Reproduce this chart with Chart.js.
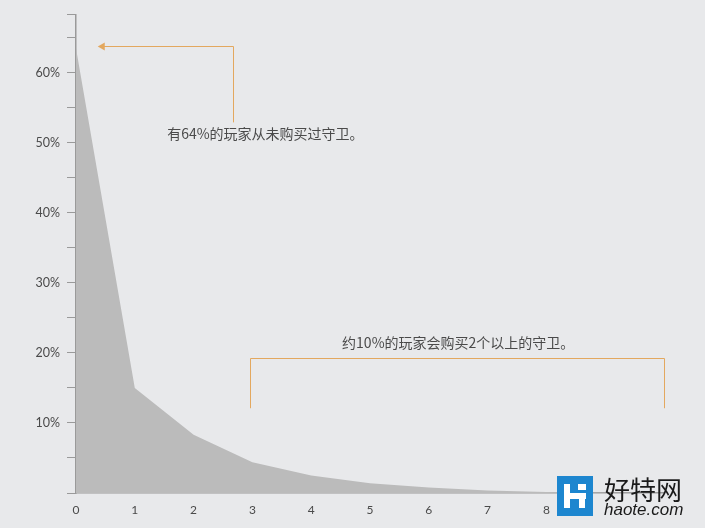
<!DOCTYPE html>
<html>
<head>
<meta charset="utf-8">
<script src="https://cdn.jsdelivr.net/npm/chart.js@4.4.1/dist/chart.umd.min.js"></script>
<style>
  html, body { margin: 0; padding: 0; background: #e8e9eb; }
  #wrap { width: 705px; height: 528px; }
</style>
</head>
<body>
<div id="wrap"><canvas id="chart" width="705" height="528"></canvas></div>
<script>
// wards bought per player -> share of players (%)
const wardCounts = [0, 1, 2, 3, 4, 5, 6, 7, 8, 9, 10];
const playerShare = [63.5, 15.0, 8.3, 4.4, 2.5, 1.4, 0.8, 0.35, 0.15, 0.05, 0];
const xLabelMax = 8; // 9 and 10 sit under the watermark
const yTickStep = 5;
const yLabelStep = 10;

const noteNever = "有64%的玩家从未购买过守卫。";
const noteMulti = "约10%的玩家会购买2个以上的守卫。";

const orange = "#e3a85f";
const axisGray = "#9a9a9a";
const textGray = "#4a4a4a";

// orange callouts, drawn in data units
const annotationPlugin = {
    id: "notes",
    afterDatasetsDraw(chart) {
        const ctx = chart.ctx;
        const xs = chart.scales.x, ys = chart.scales.y;
        const px = v => xs.getPixelForValue(v);
        const py = v => ys.getPixelForValue(v);

        ctx.save();
        ctx.strokeStyle = orange;
        ctx.fillStyle = orange;
        ctx.lineWidth = 1;

        // arrow pointing at the 0 bar
        const ax0 = px(0.37), ax1 = Math.round(px(2.67)) + 0.5;
        const ay = Math.round(py(63.8)) + 0.5;
        ctx.beginPath();
        ctx.moveTo(ax1, py(52.9));
        ctx.lineTo(ax1, ay);
        ctx.lineTo(ax0 + 5, ay);
        ctx.stroke();
        ctx.beginPath();
        ctx.moveTo(ax0, ay);
        ctx.lineTo(ax0 + 7, ay - 4);
        ctx.lineTo(ax0 + 7, ay + 4);
        ctx.closePath();
        ctx.fill();

        // bracket over 3..10
        const bx0 = Math.round(px(3)) - 1.5, bx1 = Math.round(px(10)) + 0.5;
        const by = Math.round(py(19.3)) + 0.5, byEnd = py(12.1);
        ctx.beginPath();
        ctx.moveTo(bx0, byEnd);
        ctx.lineTo(bx0, by);
        ctx.lineTo(bx1, by);
        ctx.lineTo(bx1, byEnd);
        ctx.stroke();

        ctx.fillStyle = textGray;
        ctx.font = "14px 'Noto Sans CJK SC'";
        ctx.textBaseline = "middle";
        ctx.textAlign = "left";
        ctx.fillText(noteNever, px(1.55), py(51.3));
        ctx.textAlign = "center";
        ctx.fillText(noteMulti, px(6.5), py(21.4));

        // site watermark
        ctx.fillStyle = "#1d86cf";
        ctx.fillRect(557, 476, 36, 40);
        ctx.fillStyle = "#ffffff";
        ctx.fillRect(564, 484, 6, 24);
        ctx.fillRect(564, 493, 22, 6);
        ctx.fillRect(578, 484, 8, 6);
        ctx.fillRect(579, 493, 6, 15);
        ctx.fillStyle = "#1a1a1a";
        ctx.textAlign = "left";
        ctx.textBaseline = "alphabetic";
        ctx.font = "26px 'Noto Sans CJK SC'";
        ctx.fillText("好特网", 604, 500);
        ctx.font = "italic 17px 'Liberation Sans'";
        ctx.fillText("haote.com", 604, 515);
        ctx.restore();
    }
};

new Chart(document.getElementById("chart").getContext("2d"), {
    type: "line",
    data: {
        datasets: [{
            data: wardCounts.map((x, i) => ({x, y: playerShare[i]})),
            fill: "origin",
            backgroundColor: "#bbbbbb",
            borderWidth: 0,
            pointRadius: 0,
            tension: 0,
        }],
    },
    options: {
        responsive: false,
        animation: false,
        layout: {padding: {top: 13, right: 41, left: 0, bottom: 0}},
        plugins: {legend: {display: false}, tooltip: {enabled: false}},
        scales: {
            x: {
                type: "linear",
                min: 0,
                max: 10,
                border: {display: true, color: axisGray, width: 1.5},
                grid: {display: false, drawTicks: false},
                ticks: {
                    stepSize: 1,
                    padding: 10,
                    color: textGray,
                    font: {family: "Lato", size: 12},
                    callback: v => v <= xLabelMax ? v : "",
                },
                afterFit: s => { s.height = 35; },
            },
            y: {
                min: 0,
                max: 68.3,
                border: {display: true, color: axisGray, width: 1.5},
                grid: {drawOnChartArea: false, tickLength: 9, color: axisGray},
                ticks: {
                    stepSize: yTickStep,
                    padding: 7,
                    color: textGray,
                    font: {family: "Lato", size: 12.5},
                    callback: v => (v > 0 && v % yLabelStep === 0) ? v + "%" : "",
                },
                afterFit: s => { s.width = 76; },
            },
        },
    },
    plugins: [annotationPlugin],
});
</script>
</body>
</html>
